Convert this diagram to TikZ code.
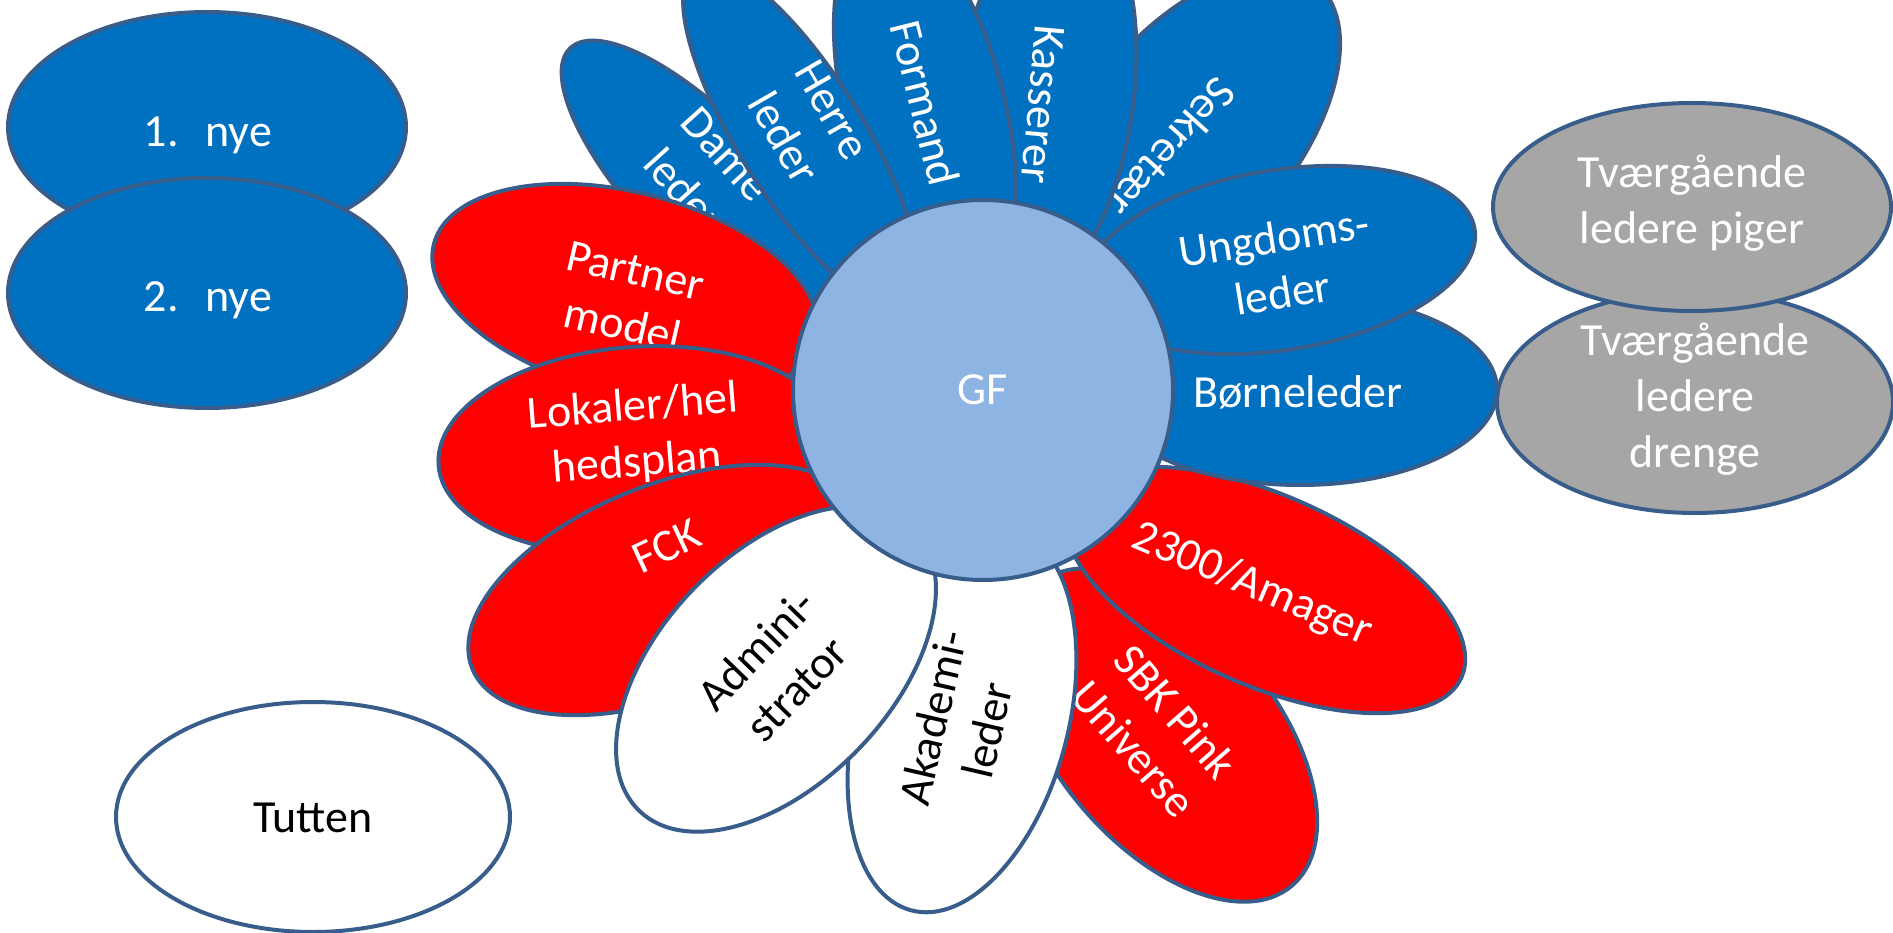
\documentclass[tikz,border=0pt]{standalone}
\usepackage{fontspec}
\setmainfont{Carlito}
\usepackage{tikz}
\usetikzlibrary{shapes.geometric}
\definecolor{leafblue}{HTML}{0070C0}
\definecolor{leafred}{HTML}{FF0000}
\definecolor{leafgrey}{HTML}{A6A6A6}
\definecolor{rimblue}{HTML}{385D8A}
\definecolor{heartblue}{HTML}{8EB4E3}
\tikzset{petal/.style 2 args={ellipse, draw=rimblue, line width=4pt, inner sep=0pt,
    minimum width=#1pt, minimum height=#2pt}}
\tikzset{ptxt/.style={align=center, inner sep=0pt, text=white,
    font=\fontsize{46}{56}\selectfont}}

\begin{document}
\begin{tikzpicture}[x=1pt,y=-1pt]
    \useasboundingbox (0,0) rectangle (1893,933);
    \clip (0,0) rectangle (1893,933);

    % ovals beside the flower
    \node[petal={398}{230}, fill=leafblue] (nye1) at (207,127) {};
    \node[ptxt] (nye1txt) at (208,135) {1.\hspace{.58em}nye};
    \node[petal={398}{230}, fill=leafblue] (nye2) at (207,293) {};
    \node[ptxt] (nye2txt) at (208,300) {2.\hspace{.58em}nye};
    \node[petal={394}{230}, fill=white] (tutten) at (313,817) {};
    \node[ptxt, text=black] (tuttentxt) at (313,818) {Tutten};
    \node[petal={396}{222}, fill=leafgrey] (drenge) at (1695,402) {};
    \node[ptxt] (drengetxt) at (1695,399) {Tværgående\\ledere\\drenge};
    \node[petal={398}{208}, fill=leafgrey] (piger) at (1692,207) {};
    \node[ptxt] (pigertxt) at (1692,203) {Tværgående\\ledere piger};

    % petals, lowest first
    \node[petal={394}{220}, fill=leafred, rotate=-50] (sbk) at (1165,735) {};
    \node[ptxt, rotate=-49] (sbktxt) at (1155,730) {SBK Pink\\Universe};
    \node[petal={394}{212}, fill=white, rotate=75] (akademi) at (962,720) {};
    \node[ptxt, text=black, rotate=77] (akademitxt) at (960,724) {Akademi-\\leder};
    \node[petal={430}{190}, fill=leafred, rotate=-24] (amager) at (1265,590) {};
    \node[ptxt, rotate=-23] (amagertxt) at (1252,585) {2300/Amager};
    \node[petal={394}{190}, fill=leafblue] (boern) at (1300,390) {};
    \node[ptxt] (boerntxt) at (1298,392) {Børneleder};
    \node[petal={394}{210}, fill=leafblue, rotate=50] (sekr) at (1190,135) {};
    \node[ptxt, rotate=-132] (sekrtxt) at (1172,148) {Sekretær};
    \node[petal={394}{180}, fill=leafblue, rotate=9] (ungdom) at (1280,260) {};
    \node[ptxt, rotate=9] (ungdomtxt) at (1278,265) {Ungdoms-\\leder};
    \node[petal={394}{176}, fill=leafblue, rotate=-98] (kasse) at (1045,100) {};
    \node[ptxt, rotate=-95] (kassetxt) at (1043,105) {Kasserer};
    \node[petal={394}{160}, fill=leafblue, rotate=-76] (formand) at (925,110) {};
    \node[ptxt, rotate=-76] (formandtxt) at (925,103) {Formand};
    \node[petal={394}{136}, fill=leafblue, rotate=-46] (dame) at (707,190) {};
    \node[ptxt, rotate=-48] (dametxt) at (705,173) {Dame\\leder};
    \node[petal={394}{124}, fill=leafblue, rotate=-58] (herre) at (800,135) {};
    \node[ptxt, rotate=-60] (herretxt) at (808,124) {Herre\\leder};
    \node[petal={394}{200}, fill=leafred, rotate=-14] (partner) at (625,292) {};
    \node[ptxt, rotate=-13] (partnertxt) at (629,298) {Partner\\model};
    \node[petal={394}{206}, fill=leafred, rotate=4.5] (lokaler) at (635,450) {};
    \node[ptxt, rotate=4.5] (lokalertxt) at (635,436) {Lokaler/hel\\hedsplan};
    \node[petal={420}{210}, fill=leafred, rotate=22] (fck) at (667,590) {};
    \node[ptxt, rotate=25] (fcktxt) at (667,546) {FCK};
    \node[petal={394}{230}, fill=white, rotate=46] (admin) at (776,669) {};
    \node[ptxt, text=black, rotate=46] (admintxt) at (776,669) {Admini-\\strator};

    % heart of the flower
    \node[circle, draw=rimblue, line width=4pt, fill=heartblue, minimum size=380pt,
        ptxt] (gf) at (983,390) {GF};
\end{tikzpicture}
\end{document}
